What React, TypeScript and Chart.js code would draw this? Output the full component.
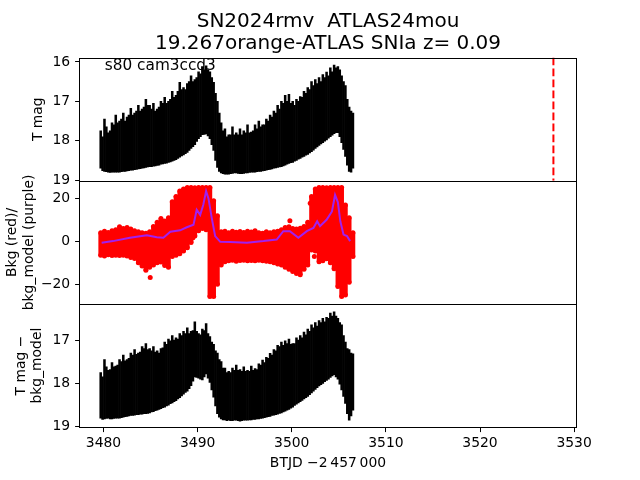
import { useEffect, useRef } from 'react';
import { Chart, registerables } from 'chart.js';

Chart.register(...registerables);

const FONT = "'DejaVu Sans', sans-serif";
const RED = '#ff0000';
const PURPLE = '#a020f0';

const TITLE_LINES = ['SN2024rmv  ATLAS24mou', '19.267orange-ATLAS SNIa z= 0.09'];
const FIELD_LABEL = 's80 cam3ccd3';
const X_TITLE = 'BTJD \u22122\u2009457\u2009000';
const TOP_TITLE = 'T mag';
const MID_TITLE = ['Bkg (red)/', 'bkg_model (purple)'];
const BOT_TITLE = ['T mag \u2212', 'bkg_model'];

const X_MIN = 3477.5;
const X_MAX = 3530.2;
const X_TICKS = [3480, 3490, 3500, 3510, 3520, 3530];
const TOP_MIN = 15.89;
const TOP_MAX = 19.02;
const TOP_TICKS = [16, 17, 18, 19];
const MID_MIN = -29.2;
const MID_MAX = 28.3;
const MID_TICKS = [-20, 0, 20];
const BOT_MIN = 16.17;
const BOT_MAX = 19.01;
const BOT_TICKS = [17, 18, 19];
const MARK_T = 3527.8;

// sampling times (grid A)
const T = [
  3479.7, 3480.1, 3480.5, 3480.9, 3481.3, 3481.7, 3482.1, 3482.5, 3482.9, 3483.3,
  3483.7, 3484.1, 3484.5, 3484.9, 3485.3, 3485.7, 3486.1, 3486.5, 3486.9, 3487.3,
  3487.7, 3488.1, 3488.5, 3488.9, 3489.3, 3489.7, 3490.1, 3490.5, 3490.9, 3491.3,
  3491.7, 3492.1, 3492.5, 3492.9, 3493.3, 3493.7, 3494.1, 3494.5, 3494.9, 3495.3,
  3495.7, 3496.1, 3496.5, 3496.9, 3497.3, 3497.7, 3498.1, 3498.5, 3498.9, 3499.3,
  3499.7, 3500.1, 3500.5, 3500.9, 3501.3, 3501.7, 3502.1, 3502.5, 3502.9, 3503.3,
  3503.7, 3504.1, 3504.5, 3504.9, 3505.3, 3505.7, 3506.1, 3506.5,
];
// sampling times (grid B)
const T_B = [
  3479.9, 3480.3, 3480.7, 3481.1, 3481.5, 3481.9, 3482.3, 3482.7, 3483.1, 3483.5,
  3483.9, 3484.3, 3484.7, 3485.1, 3485.5, 3485.9, 3486.3, 3486.7, 3487.1, 3487.5,
  3487.9, 3488.3, 3488.7, 3489.1, 3489.5, 3489.9, 3490.3, 3490.7, 3491.1, 3491.5,
  3491.9, 3492.3, 3492.7, 3493.1, 3493.5, 3493.9, 3494.3, 3494.7, 3495.1, 3495.5,
  3495.9, 3496.3, 3496.7, 3497.1, 3497.5, 3497.9, 3498.3, 3498.7, 3499.1, 3499.5,
  3499.9, 3500.3, 3500.7, 3501.1, 3501.5, 3501.9, 3502.3, 3502.7, 3503.1, 3503.5,
  3503.9, 3504.3, 3504.7, 3505.1, 3505.5, 3505.9, 3506.3,
];

const TOP_BRIGHT = [
  17.75, 17.45, 17.8, 17.55, 17.35, 17.5, 17.3, 17.4, 17.18, 17.3,
  17.1, 17.2, 16.95, 17.1, 17.05, 17.2, 17.0, 16.9, 17.0, 16.75,
  16.85, 16.52, 16.65, 16.55, 16.35, 16.45, 16.25, 16.12, 16.1, 16.25,
  16.52, 17.0, 17.55, 17.7, 17.85, 17.65, 17.8, 17.7, 17.75, 17.6,
  17.78, 17.6, 17.5, 17.6, 17.45, 17.35, 17.25, 17.1, 17.0, 16.85,
  16.82, 17.0, 16.95, 16.88, 16.75, 16.65, 16.5, 16.45, 16.4, 16.32,
  16.26, 16.15, 16.08, 16.12, 16.35, 16.6, 17.15, 17.3,
];
const TOP_FAINT = [
  18.7, 18.78, 18.8, 18.8, 18.8, 18.8, 18.78, 18.77, 18.75, 18.74,
  18.72, 18.7, 18.68, 18.66, 18.65, 18.63, 18.6, 18.58, 18.55, 18.52,
  18.48, 18.42, 18.36, 18.3, 18.2, 18.1, 17.95, 17.85, 17.83, 17.95,
  18.25, 18.68, 18.82, 18.85, 18.85, 18.83, 18.82, 18.84, 18.83, 18.82,
  18.8, 18.8, 18.78, 18.77, 18.75, 18.73, 18.7, 18.68, 18.66, 18.62,
  18.58, 18.55, 18.5, 18.45, 18.4, 18.35, 18.28, 18.2, 18.12, 18.05,
  17.98, 17.9, 17.82, 17.8, 18.05, 18.4, 18.78, 18.7,
];
const TOP_BRIGHT_B = [
  17.9, 17.65, 17.75, 17.6, 17.55, 17.45, 17.5, 17.35, 17.35, 17.25,
  17.25, 17.15, 17.1, 17.2, 17.25, 17.15, 17.05, 17.05, 16.95, 16.9,
  16.75, 16.7, 16.7, 16.5, 16.5, 16.4, 16.3, 16.2, 16.2, 16.4,
  16.8, 17.3, 17.75, 17.9, 17.85, 17.85, 17.85, 17.85, 17.8, 17.8,
  17.75, 17.7, 17.65, 17.6, 17.5, 17.4, 17.3, 17.2, 17.05, 17.0,
  17.05, 17.1, 17.0, 16.9, 16.8, 16.7, 16.6, 16.55, 16.5, 16.4,
  16.35, 16.25, 16.15, 16.2, 16.5, 16.95, 17.25,
];
const TOP_FAINT_B = [
  18.76, 18.79, 18.81, 18.8, 18.8, 18.79, 18.78, 18.76, 18.75, 18.73,
  18.71, 18.69, 18.67, 18.66, 18.64, 18.62, 18.59, 18.57, 18.54, 18.5,
  18.45, 18.39, 18.33, 18.25, 18.15, 18.02, 17.9, 17.84, 17.88, 18.1,
  18.5, 18.78, 18.84, 18.85, 18.84, 18.82, 18.83, 18.84, 18.82, 18.81,
  18.8, 18.79, 18.78, 18.76, 18.74, 18.72, 18.69, 18.67, 18.64, 18.6,
  18.56, 18.52, 18.47, 18.42, 18.37, 18.31, 18.24, 18.16, 18.08, 18.01,
  17.94, 17.86, 17.8, 17.9, 18.22, 18.62, 18.8,
];

const BKG_HIGH = [
  4.0, 4.8, 4.2, 5.0, 5.5, 6.8, 6.0, 6.5, 5.8, 5.0,
  4.5, 4.0, 3.8, 4.5, 7.0, 9.0, 10.7, 9.5, 11.0, 18.5,
  21.0, 23.5, 24.5, 25.2, 25.2, 25.0, 25.2, 25.2, 25.2, 25.2,
  19.0, 12.0, 4.5, 4.8, 4.0, 4.8, 4.3, 4.6, 4.2, 4.8,
  4.4, 5.0, 4.0, 3.8, 4.5, 4.0, 4.5, 4.8, 5.5, 6.5,
  6.8, 6.0, 5.8, 6.1, 7.0, 9.0, 21.0, 24.5, 25.2, 25.2,
  25.0, 25.2, 25.2, 25.2, 25.2, 17.0, 11.0, 4.0,
];
const BKG_LOW = [
  -6.5, -6.8, -6.2, -6.6, -6.4, -6.6, -6.5, -6.8, -7.5, -8.0,
  -10.0, -11.5, -13.5, -12.0, -11.0, -10.0, -9.6, -11.2, -12.0, -7.0,
  -6.5, -5.8, -4.5, -3.0, -0.5, 2.5, 5.0, 6.0, 5.5, -25.7,
  -25.7, -20.0, -11.0, -9.5, -9.0, -8.8, -9.2, -8.9, -8.8, -9.0,
  -8.9, -9.0, -8.8, -9.0, -9.2, -9.5, -10.0, -10.5, -11.0, -12.0,
  -13.0, -14.0, -15.0, -15.5, -13.0, -11.0, -4.0, -4.5, -9.5, -9.0,
  -8.1, -10.0, -12.7, -21.0, -25.7, -25.0, -19.0, -7.0,
];
const BKG_OUT_T = [3484.96, 3499.8, 3501.96, 3502.4, 3489.5];
const BKG_OUT_V = [-16.8, 9.7, 17.8, -7.0, 1.7];

const MODEL_T = [
  3479.8, 3481.0, 3482.8, 3484.6, 3485.66, 3486.36, 3487.1, 3488.14, 3488.85, 3489.56,
  3489.9, 3490.27, 3490.6, 3490.9, 3491.15, 3491.5, 3491.86, 3492.4, 3493.46, 3495.23,
  3497.0, 3498.4, 3499.1, 3499.8, 3500.7, 3501.6, 3502.3, 3502.7, 3503.0, 3503.7,
  3504.27, 3504.6, 3504.9, 3505.16, 3505.5, 3505.87, 3506.2,
];
const MODEL_V = [
  -0.6, 0.15, 1.7, 2.9, 2.0, 1.7, 4.5, 5.2, 6.6, 7.8,
  14.8, 12.4, 17.1, 23.5, 20.1, 10.9, 2.5, -0.2, -0.3, -0.6,
  0.15, 0.9, 4.8, 4.8, 1.7, 4.8, 6.3, 9.4, 7.1, 10.1,
  14.0, 21.7, 18.3, 9.4, 3.2, 2.5, 0.15,
];

const BOT_BRIGHT = [
  17.75, 17.45, 17.7, 17.52, 17.6, 17.45, 17.35, 17.45, 17.3, 17.22,
  17.3, 17.15, 17.08, 17.2, 17.15, 17.25, 17.2, 17.05, 16.98, 16.9,
  16.95, 16.85, 16.8, 16.72, 16.8, 16.58, 16.85, 16.75, 16.62, 16.92,
  17.1, 17.3, 17.5, 17.65, 17.72, 17.65, 17.58, 17.68, 17.62, 17.7,
  17.6, 17.66, 17.55, 17.46, 17.4, 17.31, 17.22, 17.12, 17.05, 17.02,
  16.98, 17.08, 16.95, 16.9, 16.82, 16.75, 16.65, 16.6, 16.55, 16.5,
  16.48, 16.38, 16.35, 16.5, 16.65, 17.05, 17.22, 17.32,
];
const BOT_FAINT = [
  18.8, 18.82, 18.8, 18.82, 18.8, 18.8, 18.78, 18.76, 18.74, 18.73,
  18.72, 18.71, 18.7, 18.68, 18.65, 18.62, 18.58, 18.55, 18.5, 18.45,
  18.4, 18.33, 18.25, 18.18, 18.05, 17.85, 17.88, 17.92, 17.78, 17.98,
  18.32, 18.7, 18.82, 18.84, 18.85, 18.86, 18.85, 18.87, 18.85, 18.85,
  18.84, 18.83, 18.82, 18.8, 18.78, 18.76, 18.73, 18.71, 18.68, 18.64,
  18.6, 18.55, 18.48, 18.42, 18.36, 18.3, 18.22, 18.14, 18.06, 18.0,
  17.93, 17.86, 17.8, 17.9, 18.15, 18.46, 18.85, 18.62,
];
const BOT_BRIGHT_B = [
  17.85, 17.62, 17.68, 17.62, 17.58, 17.5, 17.48, 17.42, 17.35, 17.33,
  17.28, 17.2, 17.22, 17.25, 17.28, 17.3, 17.18, 17.1, 17.02, 17.0,
  16.98, 16.9, 16.85, 16.85, 16.78, 16.8, 16.88, 16.78, 16.85, 17.05,
  17.25, 17.45, 17.65, 17.75, 17.75, 17.7, 17.7, 17.72, 17.72, 17.72,
  17.7, 17.68, 17.58, 17.52, 17.42, 17.35, 17.25, 17.15, 17.12, 17.08,
  17.1, 17.08, 17.0, 16.95, 16.88, 16.8, 16.72, 16.68, 16.6, 16.58,
  16.5, 16.45, 16.45, 16.6, 16.9, 17.2, 17.3,
];
const BOT_FAINT_B = [
  18.83, 18.81, 18.82, 18.81, 18.8, 18.79, 18.77, 18.75, 18.74, 18.72,
  18.71, 18.7, 18.69, 18.66, 18.63, 18.6, 18.56, 18.52, 18.47, 18.42,
  18.36, 18.29, 18.21, 18.12, 17.95, 17.86, 17.9, 17.85, 17.88, 18.15,
  18.52, 18.78, 18.84, 18.86, 18.86, 18.85, 18.86, 18.86, 18.85, 18.84,
  18.83, 18.82, 18.81, 18.79, 18.77, 18.74, 18.72, 18.69, 18.66, 18.62,
  18.57, 18.51, 18.45, 18.39, 18.33, 18.26, 18.18, 18.1, 18.03, 17.96,
  17.9, 17.83, 17.85, 18.02, 18.3, 18.7, 18.75,
];

const TICK_FONT = { family: FONT, size: 13.9 };

const fmtTick = (v: number | string) => String(v).replace('-', '\u2212');

function yScale(opts: any) {
  return {
    type: 'linear',
    position: 'left',
    stack: 'panels',
    stackWeight: 1,
    reverse: opts.reverse,
    min: opts.min,
    max: opts.max,
    afterBuildTicks: (s: any) => {
      s.ticks = opts.ticks.map((v: number) => ({ value: v }));
    },
    afterFit: (s: any) => {
      s.width = 80;
    },
    ticks: {
      font: TICK_FONT,
      color: '#000',
      padding: 4.9,
      autoSkip: false,
      callback: (v: any) => fmtTick(v),
    },
    grid: {
      drawOnChartArea: false,
      drawTicks: true,
      tickLength: 4.9,
      tickColor: '#000',
      tickWidth: 1,
    },
    border: { display: false },
    title: {
      display: true,
      text: opts.title,
      font: { family: FONT, size: 13.9 },
      color: '#000',
      padding: { top: opts.titlePad, bottom: 0 },
    },
  };
}

const panelPlugin = {
  id: 'panelFrames',
  afterDraw(chart: any) {
    const ctx = chart.ctx;
    const { left, right } = chart.chartArea;
    ctx.save();
    ctx.strokeStyle = '#000';
    ctx.lineWidth = 1;
    for (const id of ['yTop', 'yMid', 'yBot']) {
      const s = chart.scales[id];
      ctx.strokeRect(Math.round(left) - 0.5, Math.round(s.top) + 0.5, Math.round(right - left) + 1, Math.round(s.bottom - s.top));
    }
    const cx = (left + right) / 2;
    ctx.fillStyle = '#000';
    ctx.textAlign = 'center';
    ctx.textBaseline = 'alphabetic';
    ctx.font = `20px ${FONT}`;
    ctx.fillText(TITLE_LINES[0], cx, 26.7);
    ctx.fillText(TITLE_LINES[1], cx, 49.3);
    const top = chart.scales.yTop;
    ctx.textAlign = 'left';
    ctx.font = `15.3px ${FONT}`;
    ctx.fillText(FIELD_LABEL, left + 0.05 * (right - left), top.bottom - 0.9 * (top.bottom - top.top));
    ctx.restore();
  },
};

export default function App() {
  const ref = useRef<HTMLCanvasElement>(null);

  useEffect(() => {
    const canvas = ref.current;
    if (!canvas) return;
    const pairs = (xs: number[], ys: number[]) => xs.map((x, i) => ({ x, y: ys[i] }));
    const ranges = (xs: number[], a: number[], b: number[]) => xs.map((x, i) => ({ x, y: [a[i], b[i]] }));

    const barCommon = {
      type: 'bar' as const,
      grouped: false,
      barPercentage: 1,
      categoryPercentage: 1,
      borderWidth: 0,
      order: 2,
    };
    const dotCommon = {
      type: 'scatter' as const,
      yAxisID: 'yMid',
      pointRadius: 2.5,
      pointBackgroundColor: RED,
      pointBorderWidth: 0,
      backgroundColor: RED,
      borderColor: RED,
      showLine: false,
      order: 1,
    };

    const chart = new Chart(canvas, {
      type: 'bar',
      data: {
        datasets: [
          {
            type: 'line',
            data: pairs(MODEL_T, MODEL_V),
            yAxisID: 'yMid',
            borderColor: PURPLE,
            backgroundColor: PURPLE,
            borderWidth: 2,
            pointRadius: 0,
            tension: 0,
            order: 0,
          },
          { ...dotCommon, data: pairs(BKG_OUT_T, BKG_OUT_V) },
          { ...dotCommon, data: pairs(T, BKG_HIGH) },
          { ...dotCommon, data: pairs(T, BKG_LOW) },
          { ...barCommon, data: ranges(T, BKG_LOW, BKG_HIGH), yAxisID: 'yMid', backgroundColor: RED, barThickness: 4 },
          { ...barCommon, data: ranges(T, TOP_BRIGHT, TOP_FAINT), yAxisID: 'yTop', backgroundColor: '#000' },
          { ...barCommon, data: ranges(T_B, TOP_BRIGHT_B, TOP_FAINT_B), yAxisID: 'yTop', backgroundColor: '#000' },
          { ...barCommon, data: ranges(T, BOT_BRIGHT, BOT_FAINT), yAxisID: 'yBot', backgroundColor: '#000' },
          { ...barCommon, data: ranges(T_B, BOT_BRIGHT_B, BOT_FAINT_B), yAxisID: 'yBot', backgroundColor: '#000' },
          {
            type: 'line',
            data: [
              { x: MARK_T, y: TOP_MIN },
              { x: MARK_T, y: TOP_MAX },
            ],
            yAxisID: 'yTop',
            borderColor: RED,
            borderWidth: 2,
            borderDash: [7.7, 3.3],
            pointRadius: 0,
            order: 0,
          },
        ] as any,
      },
      options: {
        animation: false,
        responsive: false,
        devicePixelRatio: 1,
        events: [],
        layout: { padding: { left: 0, right: 64, top: 57.6, bottom: 0 } },
        plugins: {
          legend: { display: false },
          tooltip: { enabled: false },
          title: { display: false },
        },
        scales: {
          x: {
            type: 'linear',
            offset: false,
            min: X_MIN,
            max: X_MAX,
            afterBuildTicks: (s: any) => {
              s.ticks = X_TICKS.map((v) => ({ value: v }));
            },
            afterFit: (s: any) => {
              s.height = 52.8;
            },
            ticks: {
              font: TICK_FONT,
              color: '#000',
              padding: 3,
              maxRotation: 0,
              autoSkip: false,
              callback: (v: any) => String(v),
            },
            grid: {
              offset: false,
              drawOnChartArea: false,
              drawTicks: true,
              tickLength: 4.9,
              tickColor: '#000',
              tickWidth: 1,
            },
            border: { display: false },
            title: {
              display: true,
              text: X_TITLE,
              font: { family: FONT, size: 13.9 },
              color: '#000',
              padding: { top: 0, bottom: 8.6 },
            },
          },
          yBot: yScale({ min: BOT_MIN, max: BOT_MAX, reverse: true, ticks: BOT_TICKS, title: BOT_TITLE, titlePad: 12.7 }),
          yMid: yScale({ min: MID_MIN, max: MID_MAX, reverse: false, ticks: MID_TICKS, title: MID_TITLE, titlePad: 4 }),
          yTop: yScale({ min: TOP_MIN, max: TOP_MAX, reverse: true, ticks: TOP_TICKS, title: TOP_TITLE, titlePad: 30 }),
        } as any,
      },
      plugins: [panelPlugin],
    });
    return () => chart.destroy();
  }, []);

  return (
    <div style={{ position: 'absolute', left: 0, top: 0, width: 640, height: 480, background: '#fff' }}>
      <canvas ref={ref} width={640} height={480} style={{ display: 'block' }} />
    </div>
  );
}
